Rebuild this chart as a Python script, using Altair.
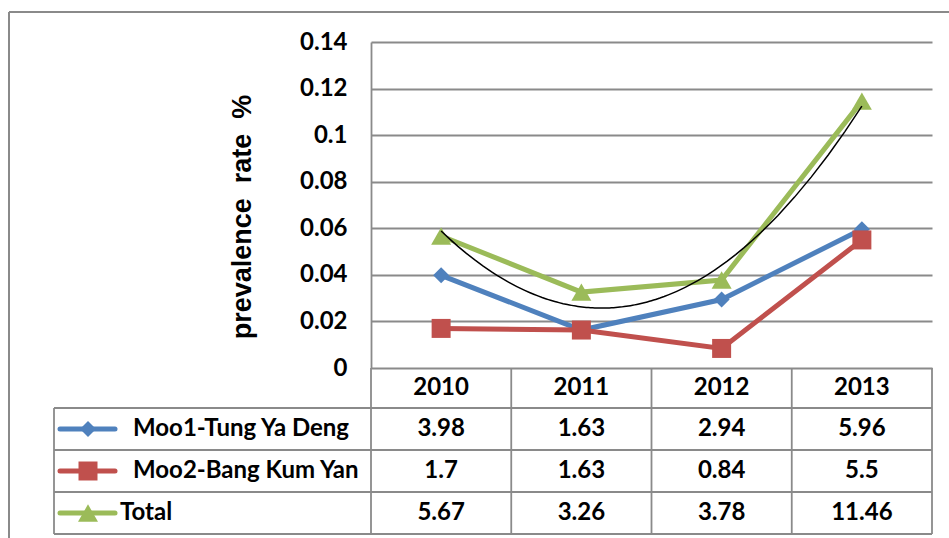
import altair as alt
import pandas as pd

years = ["2010", "2011", "2012", "2013"]
series = ["Moo1-Tung Ya Deng", "Moo2-Bang Kum Yan", "Total"]
moo1 = [3.98, 1.63, 2.94, 5.96]
moo2 = [1.7, 1.63, 0.84, 5.5]
total = [5.67, 3.26, 3.78, 11.46]
y_ticks = [0, 0.02, 0.04, 0.06, 0.08, 0.1, 0.12, 0.14]
y_title = "prevalence\u00a0\u00a0rate\u00a0\u00a0%"

colors = ["#4F81BD", "#C0504D", "#9BBB59"]
shapes = ["diamond", "square", "triangle-up"]
sizes = [256, 361, 400]

W, H = 561, 326
GRID = "#8a8a8a"
FONT = "Lato"
LAB_FS = 24

values_by_series = [moo1, moo2, total]
frames = []
for s, vals in zip(series, values_by_series):
    frames.append(pd.DataFrame({
        "series": s,
        "year": years,
        "idx": list(range(1, len(years) + 1)),
        "pct": vals,
        "rate": [v / 100 for v in vals],
        "label": [str(v) for v in vals],
    }))

xscale = alt.Scale(domain=[0.5, len(years) + 0.5])
yscale = alt.Scale(domain=[0, 0.14])
yaxis = alt.Axis(
    values=y_ticks, format=".2~f", grid=True, gridColor=GRID, gridWidth=1.8,
    ticks=False, domainColor=GRID, domainWidth=1.8, labelFont=FONT,
    labelFontWeight="bold", labelFontSize=LAB_FS, labelColor="black",
    labelPadding=24, title=None)
one = alt.Data(values=[{}])


def X(field="idx"):
    return alt.X(f"{field}:Q", scale=xscale, axis=None)


def Y():
    return alt.Y("rate:Q", scale=yscale, axis=yaxis)


layers = []

# outer frame
layers.append(alt.Chart(one).mark_rule(color=GRID, strokeWidth=2).encode(
    x=alt.value(-362), x2=alt.value(578), y=alt.value(-30)))
layers.append(alt.Chart(one).mark_rule(color=GRID, strokeWidth=2).encode(
    x=alt.value(-362), y=alt.value(-30), y2=alt.value(500)))

# table grid
col_bounds = pd.DataFrame({"b": [i + 0.5 for i in range(len(years) + 1)]})
layers.append(alt.Chart(col_bounds).mark_rule(color=GRID, strokeWidth=1.8).encode(
    x=X("b"), y=alt.value(H), y2=alt.value(492)))
row_lines = [366, 408, 450, 492]
for ry in row_lines:
    layers.append(alt.Chart(one).mark_rule(color=GRID, strokeWidth=1.8).encode(
        x=alt.value(-317), x2=alt.value(W), y=alt.value(ry)))
layers.append(alt.Chart(one).mark_rule(color=GRID, strokeWidth=1.8).encode(
    x=alt.value(-317), y=alt.value(366), y2=alt.value(492)))

# header row
layers.append(alt.Chart(frames[0]).mark_text(
    font=FONT, fontWeight="bold", fontSize=LAB_FS, color="black", baseline="middle").encode(
    x=X(), y=alt.value(346), text="year:N"))

row_y = [387, 429, 471]
text_x = [-238, -238, -251]
for df, c, shp, sz, ry, tx in zip(frames, colors, shapes, sizes, row_y, text_x):
    base = alt.Chart(df)
    layers.append(base.mark_line(color=c, strokeWidth=5).encode(x=X(), y=Y()))
    layers.append(base.mark_point(color=c, shape=shp, size=sz, filled=True, opacity=1).encode(
        x=X(), y=Y()))
    # table values
    layers.append(base.mark_text(
        font=FONT, fontWeight="bold", fontSize=LAB_FS, color="black", baseline="middle").encode(
        x=X(), y=alt.value(ry), text="label:N"))
    # legend key
    layers.append(alt.Chart(one).mark_rule(color=c, strokeWidth=5, strokeCap="round").encode(
        x=alt.value(-311), x2=alt.value(-256), y=alt.value(ry)))
    layers.append(alt.Chart(one).mark_point(color=c, shape=shp, size=sz, filled=True, opacity=1).encode(
        x=alt.value(-283), y=alt.value(ry)))
    layers.append(alt.Chart(pd.DataFrame({"name": [df["series"].iloc[0]]})).mark_text(
        font=FONT, fontWeight="bold", fontSize=LAB_FS, color="black", align="left",
        baseline="middle").encode(x=alt.value(tx), y=alt.value(ry), text="name:N"))

# polynomial trendline for Total
layers.append(alt.Chart(frames[2]).transform_regression(
    "idx", "rate", method="poly", order=2).mark_line(color="black", strokeWidth=1.5).encode(
    x=X(), y=Y()))

# y title
layers.append(alt.Chart(pd.DataFrame({"t": [y_title]})).mark_text(
    font="Liberation Sans", fontWeight="bold", fontSize=27, angle=270, color="black",
    align="center", baseline="middle").encode(
    x=alt.value(-128), y=alt.value(175), text="t:N"))

chart = alt.layer(*layers).properties(
    width=W, height=H,
    autosize=alt.AutoSizeParams(type="none"),
    padding={"left": 371, "top": 42, "right": 17, "bottom": 170},
    background="white",
).configure_view(stroke=None)

chart.save("out.html", embed_options={"renderer": "svg", "actions": False})
